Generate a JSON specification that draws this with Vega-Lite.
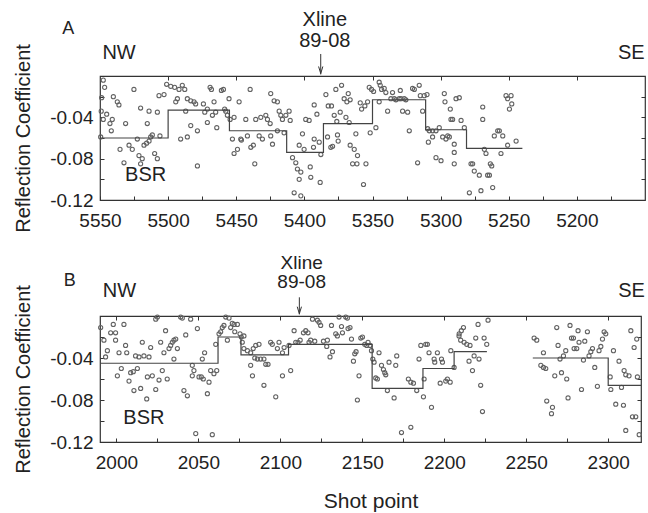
{
  "$schema": "https://vega.github.io/schema/vega-lite/v6.json",
  "background": "white",
  "padding": {"top": 9, "left": 13, "right": 2, "bottom": 2},
  "spacing": 116,
  "bounds": "flush",
  "config": {
    "font": "Liberation Sans",
    "view": {"stroke": "#333", "strokeWidth": 1.2},
    "axis": {"domain": false, "grid": false, "labelFont": "Liberation Sans", "labelFontSize": 19, "labelColor": "#222", "tickColor": "#333", "tickWidth": 1, "titleFont": "Liberation Sans", "titleFontWeight": "normal", "titleColor": "#222"}
  },
  "datasets": {
    "a_pts": [{"sp":5547.6,"rc":-0.004},{"sp":5546.6,"rc":-0.011},{"sp":5548.8,"rc":-0.021},{"sp":5549.1,"rc":-0.034},{"sp":5545.1,"rc":-0.037},{"sp":5547.6,"rc":-0.042},{"sp":5542.7,"rc":-0.046},{"sp":5541.7,"rc":-0.053},{"sp":5549.5,"rc":-0.059},{"sp":5540.2,"rc":-0.020},{"sp":5537.3,"rc":-0.025},{"sp":5536.1,"rc":-0.028},{"sp":5541,"rc":-0.042},{"sp":5535.3,"rc":-0.071},{"sp":5531.2,"rc":-0.046},{"sp":5528.7,"rc":-0.067},{"sp":5526.3,"rc":-0.071},{"sp":5532.4,"rc":-0.084},{"sp":5522.6,"rc":-0.061},{"sp":5525.1,"rc":-0.013},{"sp":5520.2,"rc":-0.031},{"sp":5521.4,"rc":-0.077},{"sp":5519,"rc":-0.080},{"sp":5520.2,"rc":-0.085},{"sp":5515.3,"rc":-0.046},{"sp":5514,"rc":-0.034},{"sp":5517.7,"rc":-0.067},{"sp":5515.8,"rc":-0.065},{"sp":5514,"rc":-0.063},{"sp":5512.8,"rc":-0.059},{"sp":5511.6,"rc":-0.057},{"sp":5509.9,"rc":-0.075},{"sp":5507.9,"rc":-0.035},{"sp":5506.7,"rc":-0.019},{"sp":5503,"rc":-0.018},{"sp":5506,"rc":-0.058},{"sp":5507.9,"rc":-0.080},{"sp":5501.1,"rc":-0.008},{"sp":5498.1,"rc":-0.010},{"sp":5495.2,"rc":-0.011},{"sp":5493.2,"rc":-0.022},{"sp":5494.4,"rc":-0.025},{"sp":5492,"rc":-0.013},{"sp":5489.6,"rc":-0.009},{"sp":5487.8,"rc":-0.013},{"sp":5485.9,"rc":-0.022},{"sp":5483.4,"rc":-0.024},{"sp":5481,"rc":-0.025},{"sp":5479.8,"rc":-0.027},{"sp":5487.1,"rc":-0.034},{"sp":5485.9,"rc":-0.059},{"sp":5483.4,"rc":-0.048},{"sp":5478.5,"rc":-0.053},{"sp":5478.5,"rc":-0.087},{"sp":5490.8,"rc":-0.061},{"sp":5474.1,"rc":-0.027},{"sp":5473.1,"rc":-0.035},{"sp":5471.2,"rc":-0.032},{"sp":5469.2,"rc":-0.011},{"sp":5468.2,"rc":-0.013},{"sp":5466.3,"rc":-0.025},{"sp":5467.5,"rc":-0.038},{"sp":5471.2,"rc":-0.045},{"sp":5465.1,"rc":-0.035},{"sp":5464.3,"rc":-0.050},{"sp":5460.9,"rc":-0.014},{"sp":5459.4,"rc":-0.013},{"sp":5458.5,"rc":-0.032},{"sp":5457.7,"rc":-0.034},{"sp":5455.3,"rc":-0.022},{"sp":5456.5,"rc":-0.038},{"sp":5454.5,"rc":-0.042},{"sp":5451.6,"rc":-0.040},{"sp":5452.8,"rc":-0.061},{"sp":5451.6,"rc":-0.075},{"sp":5449.1,"rc":-0.071},{"sp":5446.7,"rc":-0.061},{"sp":5446.2,"rc":-0.062},{"sp":5447.9,"rc":-0.025},{"sp":5443,"rc":-0.042},{"sp":5441.8,"rc":-0.058},{"sp":5439.8,"rc":-0.013},{"sp":5439.3,"rc":-0.069},{"sp":5437.4,"rc":-0.067},{"sp":5435.7,"rc":-0.042},{"sp":5436.4,"rc":-0.085},{"sp":5432,"rc":-0.040},{"sp":5433.2,"rc":-0.058},{"sp":5430.8,"rc":-0.061},{"sp":5428.3,"rc":-0.038},{"sp":5427.1,"rc":-0.042},{"sp":5425.1,"rc":-0.046},{"sp":5424.7,"rc":-0.058},{"sp":5424.7,"rc":-0.017},{"sp":5422.2,"rc":-0.024},{"sp":5419.8,"rc":-0.025},{"sp":5418.5,"rc":-0.034},{"sp":5417.3,"rc":-0.038},{"sp":5416.1,"rc":-0.042},{"sp":5414.9,"rc":-0.055},{"sp":5419.8,"rc":-0.053},{"sp":5423.4,"rc":-0.066},{"sp":5413.6,"rc":-0.038},{"sp":5411.2,"rc":-0.034},{"sp":5410.4,"rc":-0.043},{"sp":5408.7,"rc":-0.079},{"sp":5406.3,"rc":-0.084},{"sp":5405.1,"rc":-0.090},{"sp":5403.8,"rc":-0.067},{"sp":5403.8,"rc":-0.100},{"sp":5402.6,"rc":-0.093},{"sp":5401.4,"rc":-0.056},{"sp":5400.2,"rc":-0.071},{"sp":5399,"rc":-0.042},{"sp":5407.5,"rc":-0.113},{"sp":5402.6,"rc":-0.116},
      {"sp":5396.5,"rc":-0.043},{"sp":5392.8,"rc":-0.028},{"sp":5390.8,"rc":-0.037},{"sp":5392.8,"rc":-0.061},{"sp":5389.1,"rc":-0.064},{"sp":5393.3,"rc":-0.069},{"sp":5387.9,"rc":-0.076},{"sp":5395.7,"rc":-0.088},{"sp":5395.3,"rc":-0.098},{"sp":5388.4,"rc":-0.103},{"sp":5384.2,"rc":-0.018},{"sp":5382.5,"rc":-0.029},{"sp":5380.1,"rc":-0.029},{"sp":5376.9,"rc":-0.013},{"sp":5378.1,"rc":-0.038},{"sp":5376.2,"rc":-0.044},{"sp":5373.7,"rc":-0.035},{"sp":5372.7,"rc":-0.009},{"sp":5375.7,"rc":-0.057},{"sp":5375.2,"rc":-0.063},{"sp":5379.3,"rc":-0.068},{"sp":5380.6,"rc":-0.069},{"sp":5383,"rc":-0.059},{"sp":5370.8,"rc":-0.022},{"sp":5368.8,"rc":-0.025},{"sp":5367.8,"rc":-0.017},{"sp":5366.4,"rc":-0.023},{"sp":5369.5,"rc":-0.040},{"sp":5367.1,"rc":-0.045},{"sp":5366.4,"rc":-0.067},{"sp":5363.4,"rc":-0.071},{"sp":5364.6,"rc":-0.085},{"sp":5361.4,"rc":-0.085},{"sp":5361,"rc":-0.077},{"sp":5362.2,"rc":-0.056},{"sp":5359,"rc":-0.026},{"sp":5358,"rc":-0.032},{"sp":5355.6,"rc":-0.029},{"sp":5354.8,"rc":-0.085},{"sp":5356.6,"rc":-0.105},{"sp":5353.6,"rc":-0.025},{"sp":5351.7,"rc":-0.055},{"sp":5352.4,"rc":-0.011},{"sp":5350.7,"rc":-0.013},{"sp":5349.2,"rc":-0.015},{"sp":5347.5,"rc":-0.050},{"sp":5345.1,"rc":-0.006},{"sp":5344.3,"rc":-0.009},{"sp":5343.3,"rc":-0.013},{"sp":5341.4,"rc":-0.012},{"sp":5340.2,"rc":-0.016},{"sp":5345.1,"rc":-0.025},{"sp":5338.9,"rc":-0.034},{"sp":5336.5,"rc":-0.022},{"sp":5335.3,"rc":-0.016},{"sp":5334,"rc":-0.022},{"sp":5332.8,"rc":-0.023},{"sp":5330.4,"rc":-0.022},{"sp":5329.1,"rc":-0.022},{"sp":5326.7,"rc":-0.022},{"sp":5325.5,"rc":-0.023},{"sp":5327.9,"rc":-0.034},{"sp":5324.2,"rc":-0.035},{"sp":5323,"rc":-0.053},{"sp":5329.6,"rc":-0.014},{"sp":5320.6,"rc":-0.012},{"sp":5319.3,"rc":-0.013},{"sp":5315.7,"rc":-0.009},{"sp":5314.9,"rc":-0.019},{"sp":5313.2,"rc":-0.034},{"sp":5312,"rc":-0.019},{"sp":5310,"rc":-0.018},{"sp":5309.5,"rc":-0.051},{"sp":5308.3,"rc":-0.053},{"sp":5305.9,"rc":-0.053},{"sp":5303.4,"rc":-0.053},{"sp":5301,"rc":-0.050},{"sp":5316.9,"rc":-0.084},{"sp":5303.4,"rc":-0.079},{"sp":5299.7,"rc":-0.082},{"sp":5305.9,"rc":-0.059},{"sp":5309,"rc":-0.064},{"sp":5298.5,"rc":-0.059},{"sp":5297.3,"rc":-0.017},{"sp":5296.8,"rc":-0.025},{"sp":5296.1,"rc":-0.061},{"sp":5294.8,"rc":-0.058},{"sp":5293.6,"rc":-0.059},{"sp":5292.9,"rc":-0.032},{"sp":5292.4,"rc":-0.042},{"sp":5291.2,"rc":-0.042},{"sp":5290,"rc":-0.066},{"sp":5290,"rc":-0.074},{"sp":5290,"rc":-0.085},{"sp":5288.7,"rc":-0.022},{"sp":5286.3,"rc":-0.021},{"sp":5285,"rc":-0.043},{"sp":5282.6,"rc":-0.050},{"sp":5277.7,"rc":-0.085},{"sp":5276.5,"rc":-0.085},{"sp":5278.9,"rc":-0.113},{"sp":5275.3,"rc":-0.092},{"sp":5271.6,"rc":-0.096},{"sp":5270.4,"rc":-0.111},{"sp":5269.1,"rc":-0.030},{"sp":5269.1,"rc":-0.042},{"sp":5267.9,"rc":-0.071},{"sp":5266.7,"rc":-0.075},{"sp":5265.5,"rc":-0.096},{"sp":5264.2,"rc":-0.096},{"sp":5263.5,"rc":-0.085},{"sp":5262.5,"rc":-0.087},{"sp":5261.8,"rc":-0.108},{"sp":5260.6,"rc":-0.058},{"sp":5258.1,"rc":-0.053},{"sp":5256.9,"rc":-0.053},{"sp":5255.7,"rc":-0.075},{"sp":5254.4,"rc":-0.058},{"sp":5250.8,"rc":-0.067},{"sp":5252,"rc":-0.019},{"sp":5250.8,"rc":-0.022},{"sp":5248.3,"rc":-0.019},{"sp":5247.8,"rc":-0.027},{"sp":5249.5,"rc":-0.032},{"sp":5244.6,"rc":-0.063}],
    "b_pts": [{"sp":1990.4,"rc":-0.011},{"sp":1992.4,"rc":-0.023},{"sp":1994.5,"rc":-0.033},{"sp":1993.4,"rc":-0.039},{"sp":1996.5,"rc":-0.016},{"sp":1998.1,"rc":-0.008},{"sp":1999.5,"rc":-0.016},{"sp":1999.5,"rc":-0.023},{"sp":2001.6,"rc":-0.035},{"sp":2004.6,"rc":-0.008},{"sp":2005.6,"rc":-0.028},{"sp":2006.3,"rc":-0.035},{"sp":2003,"rc":-0.050},{"sp":2000.6,"rc":-0.057},{"sp":2008.7,"rc":-0.054},{"sp":2010.3,"rc":-0.053},{"sp":2012.8,"rc":-0.050},{"sp":2007.7,"rc":-0.062},{"sp":2011.7,"rc":-0.038},{"sp":2013.8,"rc":-0.039},{"sp":2010.7,"rc":-0.071},{"sp":2014.8,"rc":-0.069},{"sp":2015.8,"rc":-0.025},{"sp":2016.8,"rc":-0.038},{"sp":2018.5,"rc":-0.079},{"sp":2019.9,"rc":-0.039},{"sp":2020.9,"rc":-0.030},{"sp":2018.9,"rc":-0.058},{"sp":2021.9,"rc":-0.057},{"sp":2024,"rc":-0.003},{"sp":2025,"rc":-0.001},{"sp":2024,"rc":-0.070},{"sp":2026,"rc":-0.061},{"sp":2028,"rc":-0.052},{"sp":2027,"rc":-0.025},{"sp":2029,"rc":-0.035},{"sp":2030,"rc":-0.014},{"sp":2031,"rc":-0.060},{"sp":2032.1,"rc":-0.031},{"sp":2033.1,"rc":-0.028},{"sp":2034.1,"rc":-0.025},{"sp":2035.1,"rc":-0.023},{"sp":2036.2,"rc":-0.022},{"sp":2037.2,"rc":-0.031},{"sp":2035.1,"rc":-0.041},{"sp":2039.2,"rc":-0.001},{"sp":2040.2,"rc":-0.002},{"sp":2042.3,"rc":-0.018},{"sp":2041.2,"rc":-0.071},{"sp":2043.3,"rc":-0.076},{"sp":2045.3,"rc":-0.003},{"sp":2046.3,"rc":-0.047},{"sp":2047.3,"rc":-0.052},{"sp":2046.3,"rc":-0.057},{"sp":2048.4,"rc":-0.112},{"sp":2049.4,"rc":-0.012},{"sp":2050.4,"rc":-0.058},{"sp":2051.8,"rc":-0.058},{"sp":2053,"rc":-0.060},{"sp":2053.8,"rc":-0.035},{"sp":2052.4,"rc":-0.041},{"sp":2055.5,"rc":-0.074},{"sp":2056.5,"rc":-0.063},{"sp":2057.5,"rc":-0.052},{"sp":2058.5,"rc":-0.113},{"sp":2059.5,"rc":-0.055},{"sp":2061.2,"rc":-0.052},{"sp":2060.6,"rc":-0.027},{"sp":2062.6,"rc":-0.017},{"sp":2063.6,"rc":-0.015},{"sp":2064.6,"rc":-0.011},{"sp":2065.6,"rc":-0.009},{"sp":2066.7,"rc":-0.001},{"sp":2068.7,"rc":-0.002},{"sp":2070.7,"rc":-0.007},{"sp":2071.8,"rc":-0.008},{"sp":2073.8,"rc":-0.008},{"sp":2069.7,"rc":-0.011},{"sp":2067.7,"rc":-0.023},{"sp":2072.2,"rc":-0.015},{"sp":2075.4,"rc":-0.017},{"sp":2076.2,"rc":-0.020},{"sp":2077.8,"rc":-0.019},{"sp":2076.8,"rc":-0.025},{"sp":2077.8,"rc":-0.031},{"sp":2079.9,"rc":-0.033},{"sp":2081.9,"rc":-0.035},{"sp":2083.5,"rc":-0.031},{"sp":2085,"rc":-0.028},{"sp":2087,"rc":-0.027},{"sp":2084.4,"rc":-0.040},{"sp":2086,"rc":-0.041},{"sp":2088,"rc":-0.041},{"sp":2090,"rc":-0.041},{"sp":2091.1,"rc":-0.046},{"sp":2092.5,"rc":-0.046},{"sp":2081.9,"rc":-0.047},{"sp":2083,"rc":-0.057},{"sp":2090,"rc":-0.066},{"sp":2094.1,"rc":-0.025},{"sp":2095.1,"rc":-0.027},{"sp":2098.2,"rc":-0.031},{"sp":2097.2,"rc":-0.077},
      {"sp":2099.2,"rc":-0.025},{"sp":2101.3,"rc":-0.035},{"sp":2102.3,"rc":-0.030},{"sp":2105.3,"rc":-0.028},{"sp":2106.3,"rc":-0.052},{"sp":2101.3,"rc":-0.057},{"sp":2108.4,"rc":-0.014},{"sp":2109.4,"rc":-0.025},{"sp":2110.8,"rc":-0.025},{"sp":2112.1,"rc":-0.023},{"sp":2114.1,"rc":-0.016},{"sp":2115.5,"rc":-0.014},{"sp":2116.9,"rc":-0.016},{"sp":2118.5,"rc":-0.023},{"sp":2117.5,"rc":-0.025},{"sp":2119.6,"rc":-0.003},{"sp":2121,"rc":-0.024},{"sp":2122.6,"rc":-0.004},{"sp":2123.6,"rc":-0.006},{"sp":2124.6,"rc":-0.009},{"sp":2126.3,"rc":-0.024},{"sp":2128.3,"rc":-0.029},{"sp":2128.7,"rc":-0.023},{"sp":2130.3,"rc":-0.039},{"sp":2131.8,"rc":-0.034},{"sp":2131.2,"rc":-0.009},{"sp":2133.8,"rc":-0.017},{"sp":2134.8,"rc":-0.019},{"sp":2135.8,"rc":-0.001},{"sp":2137.3,"rc":-0.010},{"sp":2137.9,"rc":-0.016},{"sp":2139.9,"rc":-0.001},{"sp":2140.9,"rc":-0.002},{"sp":2141.3,"rc":-0.012},{"sp":2142.5,"rc":-0.011},{"sp":2143.4,"rc":-0.022},{"sp":2144.6,"rc":-0.043},{"sp":2145.4,"rc":-0.036},{"sp":2146.2,"rc":-0.034},{"sp":2148,"rc":-0.057},{"sp":2147,"rc":-0.080},{"sp":2149.1,"rc":-0.021},{"sp":2150.1,"rc":-0.020},{"sp":2151.5,"rc":-0.027},{"sp":2152.7,"rc":-0.028},{"sp":2153.5,"rc":-0.025},{"sp":2154.7,"rc":-0.028},{"sp":2155.6,"rc":-0.033},{"sp":2156.4,"rc":-0.041},{"sp":2157.2,"rc":-0.044},{"sp":2158.2,"rc":-0.059},{"sp":2159.2,"rc":-0.060},{"sp":2160.2,"rc":-0.035},{"sp":2161.7,"rc":-0.047},{"sp":2162.9,"rc":-0.051},{"sp":2163.7,"rc":-0.054},{"sp":2164.3,"rc":-0.056},{"sp":2165.3,"rc":-0.071},{"sp":2166.3,"rc":-0.044},{"sp":2169.4,"rc":-0.078},{"sp":2170.4,"rc":-0.047},{"sp":2171,"rc":-0.038},{"sp":2173.9,"rc":-0.111},{"sp":2179.6,"rc":-0.106},{"sp":2178.1,"rc":-0.060},{"sp":2179.6,"rc":-0.063},{"sp":2181.2,"rc":-0.064},{"sp":2183.2,"rc":-0.071},{"sp":2184.6,"rc":-0.041},{"sp":2185.7,"rc":-0.028},{"sp":2187.3,"rc":-0.077},{"sp":2187.7,"rc":-0.060},{"sp":2188.7,"rc":-0.027},{"sp":2189.7,"rc":-0.027},{"sp":2190.7,"rc":-0.035},{"sp":2192.2,"rc":-0.087},{"sp":2193.8,"rc":-0.041},{"sp":2194.2,"rc":-0.044},{"sp":2195.8,"rc":-0.035},{"sp":2197.5,"rc":-0.064},{"sp":2198.3,"rc":-0.041},{"sp":2198.9,"rc":-0.044},{"sp":2200.9,"rc":-0.062},{"sp":2201.9,"rc":-0.060},{"sp":2203.6,"rc":-0.063},{"sp":2204,"rc":-0.033},{"sp":2206,"rc":-0.049},{"sp":2209.1,"rc":-0.017},
      {"sp":2209,"rc":-0.019},{"sp":2210.4,"rc":-0.014},{"sp":2211.7,"rc":-0.011},{"sp":2210,"rc":-0.023},{"sp":2212.1,"rc":-0.025},{"sp":2213.7,"rc":-0.027},{"sp":2215.7,"rc":-0.028},{"sp":2215.1,"rc":-0.043},{"sp":2218.2,"rc":-0.038},{"sp":2219.2,"rc":-0.021},{"sp":2220.6,"rc":-0.008},{"sp":2221.2,"rc":-0.041},{"sp":2217.2,"rc":-0.052},{"sp":2222.2,"rc":-0.066},{"sp":2224.3,"rc":-0.021},{"sp":2225.9,"rc":-0.027},{"sp":2226.7,"rc":-0.004},{"sp":2223.3,"rc":-0.091},{"sp":2254.8,"rc":-0.021},{"sp":2256.4,"rc":-0.023},{"sp":2260.5,"rc":-0.035},{"sp":2258.9,"rc":-0.047},{"sp":2260.5,"rc":-0.049},{"sp":2261.9,"rc":-0.050},{"sp":2262.5,"rc":-0.081},{"sp":2266,"rc":-0.087},{"sp":2265.4,"rc":-0.093},{"sp":2267.4,"rc":-0.057},{"sp":2268.6,"rc":-0.011},{"sp":2269.4,"rc":-0.028},{"sp":2271.5,"rc":-0.054},{"sp":2270.6,"rc":-0.041},{"sp":2272.7,"rc":-0.038},{"sp":2274.1,"rc":-0.033},{"sp":2274.7,"rc":-0.060},{"sp":2275.5,"rc":-0.078},{"sp":2276.7,"rc":-0.009},{"sp":2277.6,"rc":-0.021},{"sp":2278.8,"rc":-0.021},{"sp":2279.2,"rc":-0.031},{"sp":2280.8,"rc":-0.031},{"sp":2281.6,"rc":-0.014},{"sp":2282.2,"rc":-0.025},{"sp":2283.7,"rc":-0.070},{"sp":2284.9,"rc":-0.042},{"sp":2285.7,"rc":-0.024},{"sp":2287.3,"rc":-0.015},{"sp":2288.3,"rc":-0.038},{"sp":2289.4,"rc":-0.034},{"sp":2290.4,"rc":-0.031},{"sp":2291.8,"rc":-0.049},{"sp":2293.4,"rc":-0.067},{"sp":2294.4,"rc":-0.033},{"sp":2295.5,"rc":-0.029},{"sp":2296.5,"rc":-0.022},{"sp":2297.5,"rc":-0.015},{"sp":2298.5,"rc":-0.017},{"sp":2301.2,"rc":-0.058},{"sp":2301.6,"rc":-0.070},{"sp":2303.2,"rc":-0.033},{"sp":2304.6,"rc":-0.084},{"sp":2306.6,"rc":-0.043},{"sp":2308.1,"rc":-0.068},{"sp":2309.3,"rc":-0.085},{"sp":2309.7,"rc":-0.052},{"sp":2310.7,"rc":-0.056},{"sp":2312.7,"rc":-0.057},{"sp":2313.8,"rc":-0.014},{"sp":2314.8,"rc":-0.096},{"sp":2315.8,"rc":-0.030},{"sp":2317.8,"rc":-0.058},{"sp":2316.8,"rc":-0.096},{"sp":2310.7,"rc":-0.109},{"sp":2318.9,"rc":-0.113},{"sp":2317.4,"rc":-0.022}],
    "a_step": [{"i":1,"sp":5550,"rc":-0.060},{"i":2,"sp":5500,"rc":-0.033},{"i":3,"sp":5455,"rc":-0.053},{"i":4,"sp":5413,"rc":-0.074},{"i":5,"sp":5386,"rc":-0.046},{"i":6,"sp":5350,"rc":-0.023},{"i":7,"sp":5311,"rc":-0.052},{"i":8,"sp":5281,"rc":-0.070},{"i":9,"sp":5240,"rc":-0.070}],
    "b_step": [{"seg":1,"i":1,"sp":1990,"rc":-0.045},{"seg":1,"i":2,"sp":2062,"rc":-0.020},{"seg":1,"i":3,"sp":2076,"rc":-0.037},{"seg":1,"i":4,"sp":2105,"rc":-0.027},{"seg":1,"i":5,"sp":2156,"rc":-0.069},{"seg":1,"i":6,"sp":2187,"rc":-0.050},{"seg":1,"i":7,"sp":2206,"rc":-0.034},{"seg":1,"i":8,"sp":2226,"rc":-0.034},{"seg":2,"i":9,"sp":2254,"rc":-0.040},{"seg":2,"i":10,"sp":2300,"rc":-0.066},{"seg":2,"i":11,"sp":2320,"rc":-0.066}],
    "a_xl": [{"sp":5385,"rc":0.0487,"t":["Xline","89-08"]}],
    "b_xl": [{"sp":2113,"rc":0.0448,"t":["Xline","89-08"]}],
    "a_txt": [{"sp":5536,"rc":0.0165,"t":"NW"},{"sp":5160,"rc":0.0165,"t":"SE"},{"sp":5516.5,"rc":-0.102,"t":"BSR"}],
    "b_txt": [{"sp":2001.8,"rc":0.0178,"t":"NW"},{"sp":2314.2,"rc":0.0178,"t":"SE"},{"sp":2016.8,"rc":-0.103,"t":"BSR"}],
    "a_lab": [{"sp":5573.3,"rc":0.0407,"t":"A"}],
    "b_lab": [{"sp":1971.5,"rc":0.0289,"t":"B"}],
    "a_arrow": [{"sp":5388,"rc":0.0213,"rc2":0.0015,"tip":0.0058}],
    "b_arrow": [{"sp":2111.6,"rc":0.0178,"rc2":0.0015,"tip":0.0055}]
  },
  "vconcat": [
    {
      "width": 545,
      "height": 124,
      "resolve": {"axis": {"x": "independent", "y": "independent"}},
      "layer": [
        {
          "data": {"name": "a_pts"},
          "mark": {"type": "point", "filled": false, "size": 17, "strokeWidth": 1.1, "color": "#626262", "opacity": 1},
          "encoding": {
            "x": {"field": "sp", "type": "quantitative", "scale": {"domain": [5150, 5550], "reverse": true, "nice": false, "zero": false},
                  "axis": {"orient": "bottom", "values": [5175,5200,5225,5250,5275,5300,5325,5350,5375,5400,5425,5450,5475,5500,5525,5550], "labelExpr": "datum.value % 50 == 0 ? format(datum.value, 'd') : ''", "tickSize": -4, "labelPadding": 15, "labelFlush": false, "labelOverlap": false, "title": null}},
            "y": {"field": "rc", "type": "quantitative", "scale": {"domain": [-0.12, 0], "nice": false, "zero": false},
                  "axis": {"orient": "left", "values": [-0.12,-0.1,-0.08,-0.06,-0.04,-0.02], "labelExpr": "datum.value < -0.001 && round(datum.value*100) % 4 == 0 ? '-' + format(-datum.value, '.2f') : ''", "tickSize": -4, "labelPadding": 11, "labelFlush": false, "labelOverlap": false, "title": "Reflection Coefficient", "titleFontSize": 20, "titlePadding": 16}}
          }
        },
        {
          "data": {"name": "a_step"},
          "mark": {"type": "line", "interpolate": "step-after", "color": "#444", "strokeWidth": 1.2},
          "encoding": {
            "x": {"field": "sp", "type": "quantitative", "axis": {"orient": "top", "values": [5200,5250,5300,5350,5400,5450,5500], "labels": false, "tickSize": -4, "title": null}},
            "y": {"field": "rc", "type": "quantitative", "axis": {"orient": "right", "values": [-0.1,-0.08,-0.06,-0.04,-0.02], "labels": false, "tickSize": -4, "title": null}},
            "order": {"field": "i", "type": "quantitative"}
          }
        },
        {
          "data": {"name": "a_xl"},
          "mark": {"type": "text", "fontSize": 20, "lineHeight": 21.5, "color": "#222", "align": "center", "baseline": "alphabetic"},
          "encoding": {
            "x": {"field": "sp", "type": "quantitative", "axis": null},
            "y": {"field": "rc", "type": "quantitative", "axis": null},
            "text": {"field": "t"}
          }
        },
        {
          "data": {"name": "a_txt"},
          "mark": {"type": "text", "fontSize": 20, "color": "#222", "align": "center", "baseline": "alphabetic"},
          "encoding": {
            "x": {"field": "sp", "type": "quantitative", "axis": null},
            "y": {"field": "rc", "type": "quantitative", "axis": null},
            "text": {"field": "t"}
          }
        },
        {
          "data": {"name": "a_lab"},
          "mark": {"type": "text", "fontSize": 18, "color": "#222", "align": "center", "baseline": "alphabetic"},
          "encoding": {
            "x": {"field": "sp", "type": "quantitative", "axis": null},
            "y": {"field": "rc", "type": "quantitative", "axis": null},
            "text": {"field": "t"}
          }
        },
        {
          "data": {"name": "a_arrow"},
          "mark": {"type": "rule", "color": "#333", "strokeWidth": 1},
          "encoding": {
            "x": {"field": "sp", "type": "quantitative", "axis": null},
            "y": {"field": "rc", "type": "quantitative", "axis": null},
            "y2": {"field": "rc2"}
          }
        },
        {
          "data": {"name": "a_arrow"},
          "mark": {"type": "point", "shape": "M-0.6,-1L0,1L0.6,-1", "filled": false, "size": 50, "color": "#333", "strokeWidth": 1, "opacity": 1},
          "encoding": {
            "x": {"field": "sp", "type": "quantitative", "axis": null},
            "y": {"field": "tip", "type": "quantitative", "axis": null}
          }
        }
      ]
    },
    {
      "width": 541,
      "height": 126,
      "resolve": {"axis": {"x": "independent", "y": "independent"}},
      "layer": [
        {
          "data": {"name": "b_pts"},
          "mark": {"type": "point", "filled": false, "size": 17, "strokeWidth": 1.1, "color": "#626262", "opacity": 1},
          "encoding": {
            "x": {"field": "sp", "type": "quantitative", "scale": {"domain": [1990, 2320], "nice": false, "zero": false},
                  "axis": {"orient": "bottom", "values": [2000,2025,2050,2075,2100,2125,2150,2175,2200,2225,2250,2275,2300], "labelExpr": "datum.value % 50 == 0 ? format(datum.value, 'd') : ''", "tickSize": -4, "labelPadding": 15, "labelFlush": false, "labelOverlap": false, "title": "Shot point", "titleFontSize": 21, "titlePadding": 18}},
            "y": {"field": "rc", "type": "quantitative", "scale": {"domain": [-0.12, 0], "nice": false, "zero": false},
                  "axis": {"orient": "left", "values": [-0.12,-0.1,-0.08,-0.06,-0.04,-0.02], "labelExpr": "datum.value < -0.001 && round(datum.value*100) % 4 == 0 ? '-' + format(-datum.value, '.2f') : ''", "tickSize": -4, "labelPadding": 11, "labelFlush": false, "labelOverlap": false, "title": "Reflection Coefficient", "titleFontSize": 20, "titlePadding": 16}}
          }
        },
        {
          "data": {"name": "b_step"},
          "mark": {"type": "line", "interpolate": "step-after", "color": "#444", "strokeWidth": 1.2},
          "encoding": {
            "x": {"field": "sp", "type": "quantitative", "axis": {"orient": "top", "values": [2000,2050,2100,2150,2200,2250,2300], "labels": false, "tickSize": -4, "title": null}},
            "y": {"field": "rc", "type": "quantitative", "axis": {"orient": "right", "values": [-0.1,-0.08,-0.06,-0.04,-0.02], "labels": false, "tickSize": -4, "title": null}},
            "detail": {"field": "seg", "type": "nominal"},
            "order": {"field": "i", "type": "quantitative"}
          }
        },
        {
          "data": {"name": "b_xl"},
          "mark": {"type": "text", "fontSize": 19, "lineHeight": 19, "color": "#222", "align": "center", "baseline": "alphabetic"},
          "encoding": {
            "x": {"field": "sp", "type": "quantitative", "axis": null},
            "y": {"field": "rc", "type": "quantitative", "axis": null},
            "text": {"field": "t"}
          }
        },
        {
          "data": {"name": "b_txt"},
          "mark": {"type": "text", "fontSize": 20, "color": "#222", "align": "center", "baseline": "alphabetic"},
          "encoding": {
            "x": {"field": "sp", "type": "quantitative", "axis": null},
            "y": {"field": "rc", "type": "quantitative", "axis": null},
            "text": {"field": "t"}
          }
        },
        {
          "data": {"name": "b_lab"},
          "mark": {"type": "text", "fontSize": 18, "color": "#222", "align": "center", "baseline": "alphabetic"},
          "encoding": {
            "x": {"field": "sp", "type": "quantitative", "axis": null},
            "y": {"field": "rc", "type": "quantitative", "axis": null},
            "text": {"field": "t"}
          }
        },
        {
          "data": {"name": "b_arrow"},
          "mark": {"type": "rule", "color": "#333", "strokeWidth": 1},
          "encoding": {
            "x": {"field": "sp", "type": "quantitative", "axis": null},
            "y": {"field": "rc", "type": "quantitative", "axis": null},
            "y2": {"field": "rc2"}
          }
        },
        {
          "data": {"name": "b_arrow"},
          "mark": {"type": "point", "shape": "M-0.6,-1L0,1L0.6,-1", "filled": false, "size": 50, "color": "#333", "strokeWidth": 1, "opacity": 1},
          "encoding": {
            "x": {"field": "sp", "type": "quantitative", "axis": null},
            "y": {"field": "tip", "type": "quantitative", "axis": null}
          }
        }
      ]
    }
  ]
}
